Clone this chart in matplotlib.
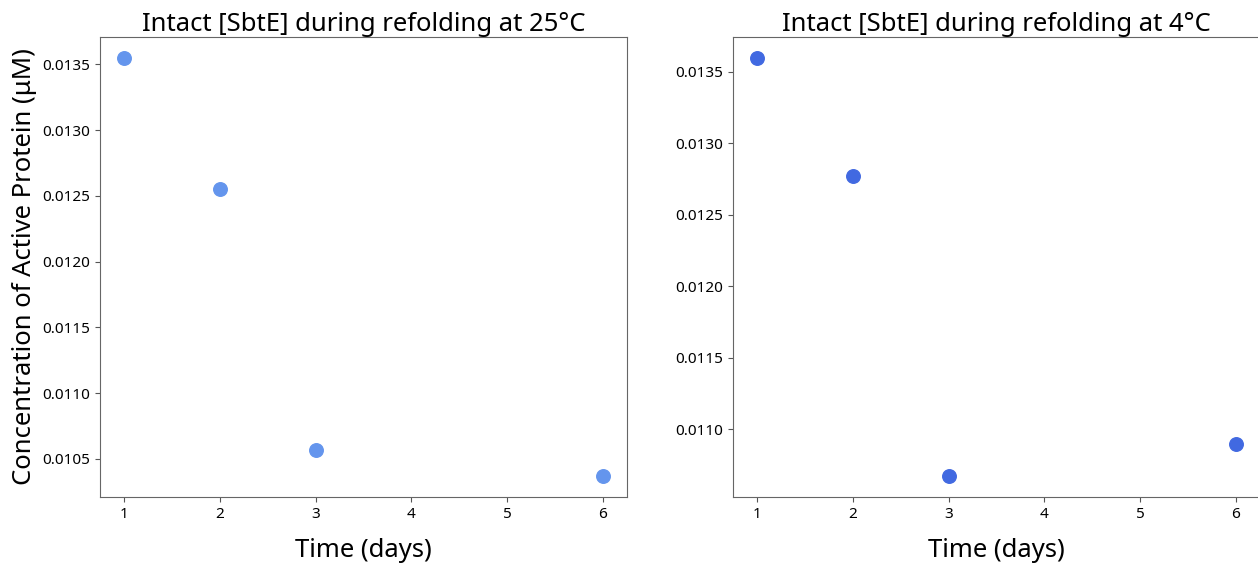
import matplotlib
matplotlib.use("Agg")
import matplotlib.pyplot as plt

plt.rcParams["font.family"] = ["Noto Sans", "DejaVu Sans"]

# sampling days and measured concentrations (uM)
days = [1, 2, 3, 6]
conc_25C = [0.013549, 0.012553, 0.010566, 0.010369]
conc_4C = [0.013597, 0.012772, 0.010673, 0.010896]

titles = ["Intact [SbtE] during refolding at 25°C",
          "Intact [SbtE] during refolding at 4°C"]
colors = ["cornflowerblue", "royalblue"]

fig = plt.figure(figsize=(12.58, 5.66), dpi=100)
W, H = 1258, 566
ax1 = fig.add_axes([100 / W, 1 - 497 / H, 527 / W, 460 / H])
ax2 = fig.add_axes([733 / W, 1 - 497 / H, 527 / W, 460 / H])

for ax, conc, title, c in zip([ax1, ax2], [conc_25C, conc_4C], titles, colors):
    ax.scatter(days, conc, s=95, color=c, zorder=3)
    ax.set_title(title, fontsize=18.5, pad=4, fontweight="light")
    ax.set_xlabel("Time (days)", fontsize=18.5, labelpad=12, fontweight="light")
    ax.set_xticks([1, 2, 3, 4, 5, 6])
    ax.tick_params(labelsize=11, color="#555555")
    for sp in ax.spines.values():
        sp.set_color("#666666")

ax1.set_ylabel("Concentration of Active Protein (μM)", fontsize=18.5,
               labelpad=4, fontweight="light")

fig.savefig("out.png", dpi=100)
